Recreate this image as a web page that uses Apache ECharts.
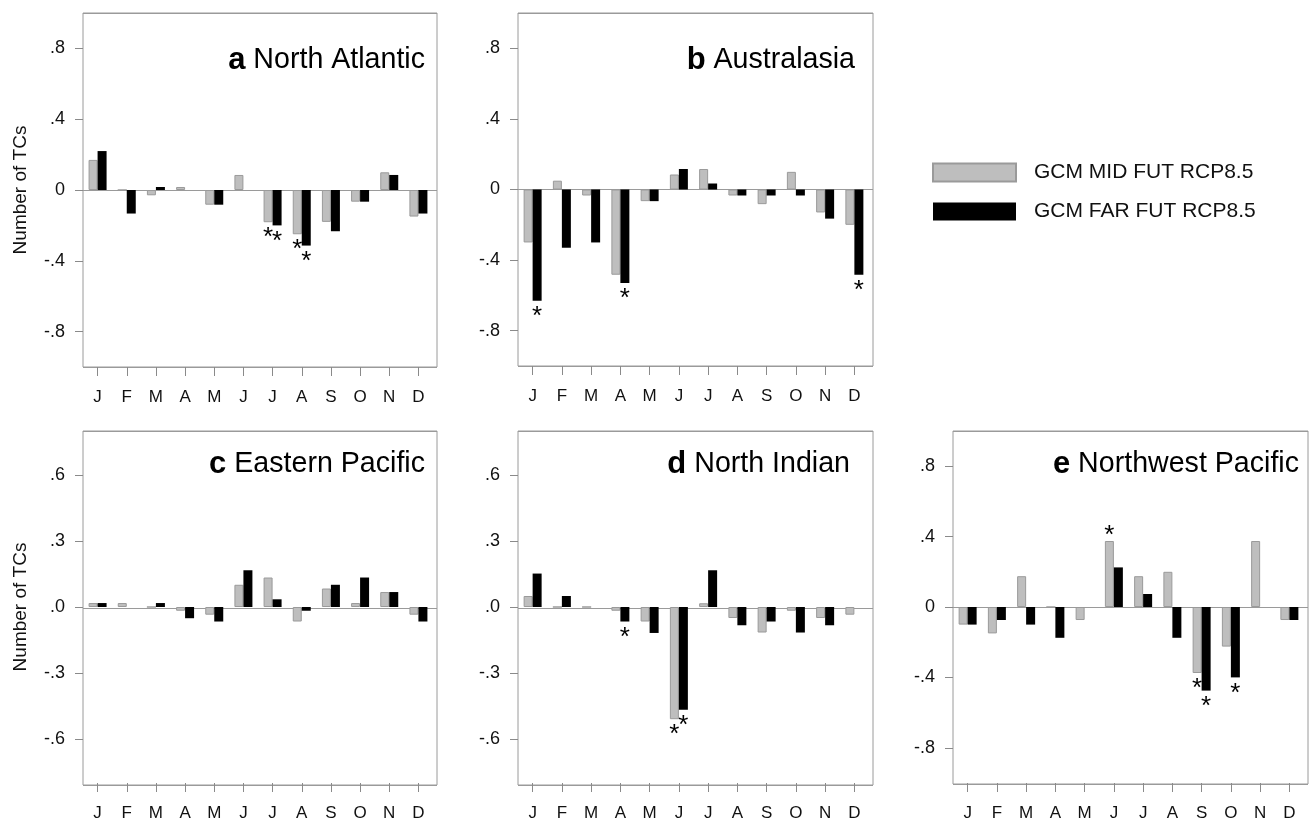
<!DOCTYPE html>
<html>
<head>
<meta charset="utf-8">
<script src="https://cdn.jsdelivr.net/npm/echarts@6/dist/echarts.min.js"></script>
<style>
html,body{margin:0;padding:0;background:#fff;}
#chart{width:1311px;height:822px;}
</style>
</head>
<body>
<div id="chart"></div>
<script>
// ---- data ----
const months = ['J','F','M','A','M','J','J','A','S','O','N','D'];
const seriesNames = ['GCM MID FUT RCP8.5', 'GCM FAR FUT RCP8.5'];

const ticks1 = [-0.8, -0.4, 0, 0.4, 0.8];
const tickLabels1 = ['-.8', '-.4', '0', '.4', '.8'];
const ticks2 = [-0.6, -0.3, 0, 0.3, 0.6];
const tickLabels2 = ['-.6', '-.3', '.0', '.3', '.6'];

// a North Atlantic
const naMid = [0.17, 0, -0.03, 0.017, -0.083, 0.085, -0.182, -0.25, -0.18, -0.066, 0.10, -0.15];
const naFar = [0.22, -0.133, 0.017, 0, -0.083, 0, -0.20, -0.314, -0.233, -0.066, 0.085, -0.133];
const naSigMid = [6, 7];
const naSigFar = [6, 7];

// b Australasia
const auMid = [-0.30, 0.05, -0.034, -0.483, -0.066, 0.085, 0.116, -0.034, -0.083, 0.10, -0.13, -0.20];
const auFar = [-0.63, -0.33, -0.30, -0.53, -0.066, 0.116, 0.034, -0.034, -0.034, -0.034, -0.165, -0.483];
const auSigMid = [];
const auSigFar = [0, 3, 11];

// c Eastern Pacific
const epMid = [0.018, 0.018, 0, -0.017, -0.035, 0.101, 0.134, -0.066, 0.084, 0.018, 0.068, -0.035];
const epFar = [0.018, 0, 0.018, -0.051, -0.066, 0.167, 0.035, -0.017, 0.101, 0.134, 0.068, -0.066];
const epSigMid = [];
const epSigFar = [];

// d North Indian
const niMid = [0.05, 0, 0, -0.017, -0.066, -0.51, 0.017, -0.05, -0.116, -0.017, -0.05, -0.035];
const niFar = [0.152, 0.05, 0, -0.066, -0.118, -0.467, 0.167, -0.083, -0.066, -0.116, -0.083, 0];
const niSigMid = [5];
const niSigFar = [3, 5];

// e Northwest Pacific
const nwMid = [-0.10, -0.15, 0.175, 0, -0.074, 0.375, 0.175, 0.20, -0.375, -0.225, 0.375, -0.074];
const nwFar = [-0.10, -0.074, -0.10, -0.175, 0, 0.225, 0.074, -0.175, -0.475, -0.40, 0, -0.074];
const nwSigMid = [5, 8];
const nwSigFar = [8, 9];

// ---- layout ----
const FONT = '"Liberation Sans", Arial, Helvetica, sans-serif';
const panels = [
  {letter:'a', name:'North Atlantic', mid:naMid, far:naFar, sigMid:naSigMid, sigFar:naSigFar,
   ticks:ticks1, labels:tickLabels1, lim:1.0, box:{left:83, top:13, width:354, height:354}, titleRight:886, titleTop:44, yName:true},
  {letter:'b', name:'Australasia', mid:auMid, far:auFar, sigMid:auSigMid, sigFar:auSigFar,
   ticks:ticks1, labels:tickLabels1, lim:1.0, box:{left:518, top:13, width:355, height:353}, titleRight:456, titleTop:44, yName:false},
  {letter:'c', name:'Eastern Pacific', mid:epMid, far:epFar, sigMid:epSigMid, sigFar:epSigFar,
   ticks:ticks2, labels:tickLabels2, lim:0.8, box:{left:83, top:431, width:354, height:354}, titleRight:886, titleTop:448, yName:true},
  {letter:'d', name:'North Indian', mid:niMid, far:niFar, sigMid:niSigMid, sigFar:niSigFar,
   ticks:ticks2, labels:tickLabels2, lim:0.8, box:{left:518, top:431, width:355, height:354}, titleRight:461, titleTop:448, yName:false},
  {letter:'e', name:'Northwest Pacific', mid:nwMid, far:nwFar, sigMid:nwSigMid, sigFar:nwSigFar,
   ticks:ticks1, labels:tickLabels1, lim:1.0, box:{left:953, top:431, width:355, height:353}, titleRight:12, titleTop:448, yName:false}
];

const grid = [], xAxis = [], yAxis = [], series = [], title = [];

function barData(vals, sig) {
  return vals.map((v, i) => {
    const s = sig.indexOf(i) >= 0;
    if (!s) return v;
    const pos = v >= 0 ? 'top' : 'bottom';
    return {
      value: v,
      label: {
        show: true, formatter: '*', position: pos,
        distance: v >= 0 ? 0 : 3,
        offset: v >= 0 ? [0, 8] : [0, 0],
        fontSize: 26, color: '#000', fontFamily: FONT
      }
    };
  });
}

panels.forEach((p, k) => {
  const b = p.box;
  // box grid (frame + zero line)
  grid.push({left:b.left, top:b.top, width:b.width, height:b.height, show:true,
    borderColor:'#9a9a9a', borderWidth:1, backgroundColor:'transparent'});
  const gBox = grid.length - 1;
  xAxis.push({gridIndex:gBox, type:'value', min:0, max:1, show:false});
  yAxis.push({gridIndex:gBox, type:'value', min:-p.lim, max:p.lim, interval:p.lim,
    axisLine:{show:false}, axisTick:{show:false}, axisLabel:{show:false},
    splitLine:{show:true, lineStyle:{color:'#9a9a9a', width:1}}});

  // data grid
  grid.push({left:b.left, top:b.top, width:b.width - 4, height:b.height, show:false});
  const gData = grid.length - 1;
  xAxis.push({gridIndex:gData, type:'category', data:months, position:'bottom',
    axisLine:{show:false, onZero:false},
    axisTick:{show:true, alignWithLabel:true, interval:0, length:9, lineStyle:{color:'#8a8a8a'}},
    axisLabel:{interval:0, margin:22, fontSize:17, color:'#111', fontFamily:FONT},
    splitLine:{show:false}});
  const yA = {gridIndex:gData, type:'value', min:-p.lim, max:p.lim,
    axisLine:{show:false},
    axisTick:{show:true, length:8, customValues:p.ticks, lineStyle:{color:'#8a8a8a'}},
    axisLabel:{customValues:p.ticks, margin:18, fontSize:18, color:'#111', fontFamily:FONT,
      formatter:(v) => { const i = p.ticks.findIndex(t => Math.abs(t - v) < 1e-9); return i >= 0 ? p.labels[i] : ''; }},
    splitLine:{show:false}};
  if (p.yName) {
    Object.assign(yA, {name:'Number of TCs', nameLocation:'middle', nameGap:53,
      nameTextStyle:{fontSize:19, color:'#111', fontFamily:FONT}});
  }
  yAxis.push(yA);
  const axIdx = xAxis.length - 1;

  series.push({name:seriesNames[0], type:'bar', xAxisIndex:axIdx, yAxisIndex:axIdx,
    data:barData(p.mid, p.sigMid), barWidth:9, barGap:'0%',
    itemStyle:{color:'#bebebe', borderColor:'#9a9a9a', borderWidth:1}});
  series.push({name:seriesNames[1], type:'bar', xAxisIndex:axIdx, yAxisIndex:axIdx,
    data:barData(p.far, p.sigFar), barWidth:9, barGap:'0%',
    itemStyle:{color:'#000'}});

  title.push({text:'{l|' + p.letter + '} {n|' + p.name + '}', right:p.titleRight, top:p.titleTop, padding:0,
    textStyle:{rich:{
      l:{fontSize:31, fontWeight:'bold', color:'#000', fontFamily:FONT, lineHeight:32},
      n:{fontSize:28.6, fontWeight:'normal', color:'#000', fontFamily:FONT, lineHeight:32}
    }, fontSize:28.6, fontWeight:'normal', lineHeight:32, fontFamily:FONT}});
});

const chart = echarts.init(document.getElementById('chart'), null, {renderer:'canvas'});
chart.setOption({
  animation:false,
  backgroundColor:'#fff',
  title:title,
  legend:{data:seriesNames, orient:'vertical', left:927, top:157, itemWidth:83, itemHeight:18, itemGap:18,
    textStyle:{fontSize:21, color:'#111', fontFamily:FONT, padding:[0,0,0,13]}, icon:'rect'},
  grid:grid, xAxis:xAxis, yAxis:yAxis, series:series
});
</script>
</body>
</html>
